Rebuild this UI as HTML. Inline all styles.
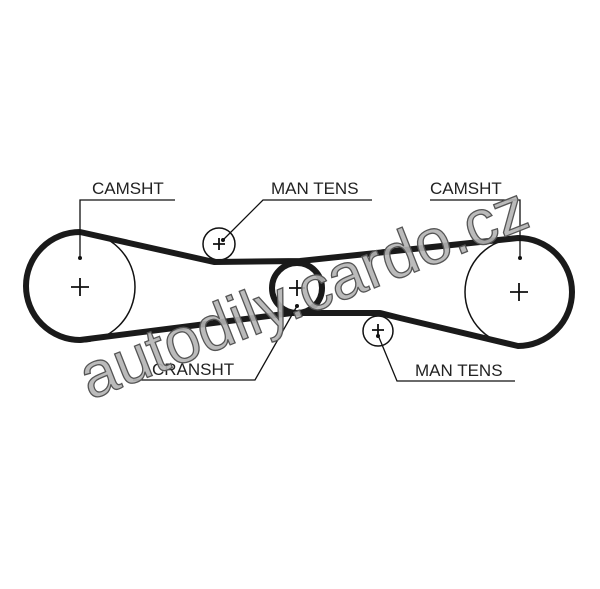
<!DOCTYPE html>
<html><head><style>
html,body{margin:0;padding:0;background:#fff;}
svg{display:block;}
text{font-family:"Liberation Sans",Arial,sans-serif;}
</style></head><body>
<svg width="600" height="589" viewBox="0 0 600 589" xmlns="http://www.w3.org/2000/svg">
<rect width="600" height="589" fill="#fff"/>
<g fill="none" stroke="#111" stroke-width="1.5">
<circle cx="80" cy="287" r="55"/>
<circle cx="519" cy="292" r="54"/>
<circle cx="219" cy="244" r="16"/>
<circle cx="378" cy="331" r="15"/>
</g>
<g fill="none" stroke="#1a1a1a" stroke-width="6" stroke-linejoin="round">
<path d="M80,232 L214,262 L300,261 L518,238 A54,54 0 0 1 518,346 L400,318 L380,313 L292,313 L80,340 A54,54 0 0 1 80,232 Z"/>
<circle cx="297" cy="288" r="25"/>
</g>
<g stroke="#111" stroke-width="1.8">
<path d="M71,287h18M80,278v18"/>
<path d="M510,292h18M519,283v18"/>
<path d="M289,288h16M297,280v16"/>
<path d="M213,244h12M219,238v12"/>
<path d="M372,330h12M378,324v12"/>
</g>
<g fill="none" stroke="#111" stroke-width="1.3">
<path d="M80,258V200H175"/>
<path d="M223,240L263,200H372"/>
<path d="M520,258V200H430"/>
<path d="M297,306L255,380H133"/>
<path d="M378,335L397,381H515"/>
</g>
<g fill="#111">
<circle cx="80" cy="258" r="2"/><circle cx="520" cy="258" r="2"/>
<circle cx="223" cy="240" r="2"/><circle cx="297" cy="306" r="2"/><circle cx="378" cy="336" r="2"/>
</g>
<g font-size="17" fill="#222">
<text x="92" y="194">CAMSHT</text>
<text x="271" y="194">MAN TENS</text>
<text x="430" y="194">CAMSHT</text>
<text x="152" y="375">CRANSHT</text>
<text x="415" y="376">MAN TENS</text>
</g>
<text x="0" y="0" transform="translate(90,400) rotate(-21.5)" font-size="64" fill="#b4b4b4" stroke="#555" stroke-width="1.3" fill-opacity="0.9" font-family="Liberation Sans, sans-serif">autodily.cardo.cz</text>
</svg>
</body></html>
